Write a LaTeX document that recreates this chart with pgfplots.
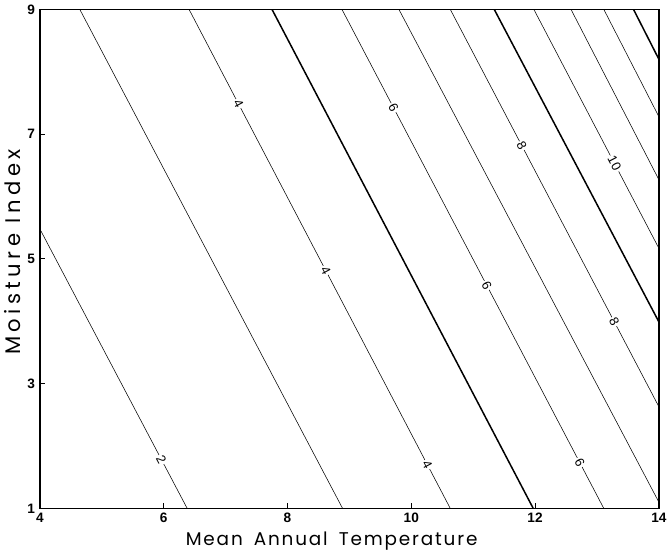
\documentclass[border=0pt]{standalone}
\usepackage{pgfplots}
\pgfplotsset{compat=1.18}
\usepackage{fontspec}
\setmainfont{Liberation Sans}
\newfontfamily\xlabfont[LetterSpace=10]{Poppins}
\newfontfamily\ylabfont[LetterSpace=21]{Poppins}
\tikzset{lbl/.style={sloped, fill=white, inner sep=1pt, font=\fontsize{9.5}{11}\selectfont}}
\begin{document}
\begin{tikzpicture}
\begin{axis}[
 scale only axis, width=454pt, height=366pt,
 xmin=4,xmax=14,ymin=1,ymax=9,
 xtick={4,6,...,14}, ytick={1,3,...,9},
 tick align=inside, tick pos=left, major tick length=4pt,
 axis line style={line width=1.1pt},
 tick style={black, line width=0.8pt},
 ticklabel style={font=\bfseries\fontsize{10}{12}\selectfont},
 /pgf/number format/assume math mode=true,
 xlabel={Mean\hspace{0.6em}Annual\hspace{0.6em}Temperature}, ylabel={Moisture\hspace{0.5em}Index},
 xlabel style={font=\xlabfont\fontsize{13.5}{16}\selectfont, xshift=-13pt},
 ylabel style={font=\ylabfont\fontsize{15.5}{18}\selectfont, yshift=-2pt, xshift=5pt},
 cycle list={{black, solid, mark=none, line width=1.1pt}},
]
\addplot coordinates {(4,5.48) (6.38,1)} node[pos=0.825, lbl]{2};
\addplot coordinates {(4.645,9) (8.89,1)};
\addplot coordinates {(6.41,9) (10.63,1)} node[pos=0.189, lbl]{4} node[pos=0.523, lbl]{4} node[pos=0.912, lbl]{4};
\addplot coordinates {(7.75,9) (11.97,1)};
\addplot coordinates {(8.88,9) (13.11,1)} node[pos=0.197, lbl]{6} node[pos=0.553, lbl]{6} node[pos=0.908, lbl]{6};
\addplot coordinates {(9.80,9) (14,1.1)};
\addplot coordinates {(10.63,9) (14,2.63)} node[pos=0.343, lbl]{8} node[pos=0.786, lbl]{8};
\addplot coordinates {(11.34,9) (14,3.99)};
\addplot coordinates {(11.98,9) (14,5.17)} node[pos=0.645, lbl]{1\kern0.6pt0};
\addplot coordinates {(12.58,9) (14,6.27)};
\addplot coordinates {(13.11,9) (14,7.28)};
\addplot coordinates {(13.59,9) (14,8.2)};
\end{axis}
\end{tikzpicture}
\end{document}
